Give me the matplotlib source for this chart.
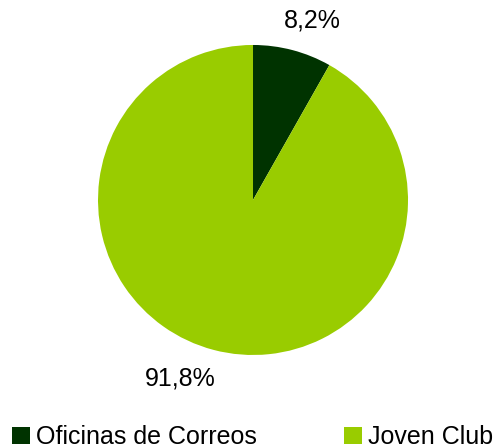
import matplotlib.pyplot as plt
from matplotlib.patches import Patch

# datos
categorias = ["Oficinas de Correos", "Joven Club"]
valores = [8.2, 91.8]
colores = ["#003300", "#99CC00"]

plt.rcParams['font.family'] = ['Liberation Sans', 'DejaVu Sans']

fig = plt.figure(figsize=(4.93, 4.48), dpi=100)
ax = fig.add_axes([0.1988, 0.2076, 0.6288, 0.692])

wedges, textos, pcts = ax.pie(valores, colors=colores, startangle=90, counterclock=False,
                              autopct=lambda p: "{:.1f}%".format(p).replace(".", ","),
                              pctdistance=1.22, textprops={'fontsize': 18})
# posiciones de las etiquetas como en el original
pcts[0].set_position((0.38, 1.16))
pcts[1].set_position((-0.47, -1.15))
ax.set_xlim(-1, 1)
ax.set_ylim(-1, 1)
ax.set_aspect('auto')

handles = [Patch(facecolor=c, edgecolor='none') for c in colores]
fig.legend(handles, categorias, loc='center left', bbox_to_anchor=(0.025, 1 - 437 / 448), ncol=2,
           frameon=False, fontsize=18, handlelength=0.7, handleheight=0.7,
           handletextpad=0.25, columnspacing=3.5, borderaxespad=0, borderpad=0)

fig.savefig("out.png", dpi=100)
